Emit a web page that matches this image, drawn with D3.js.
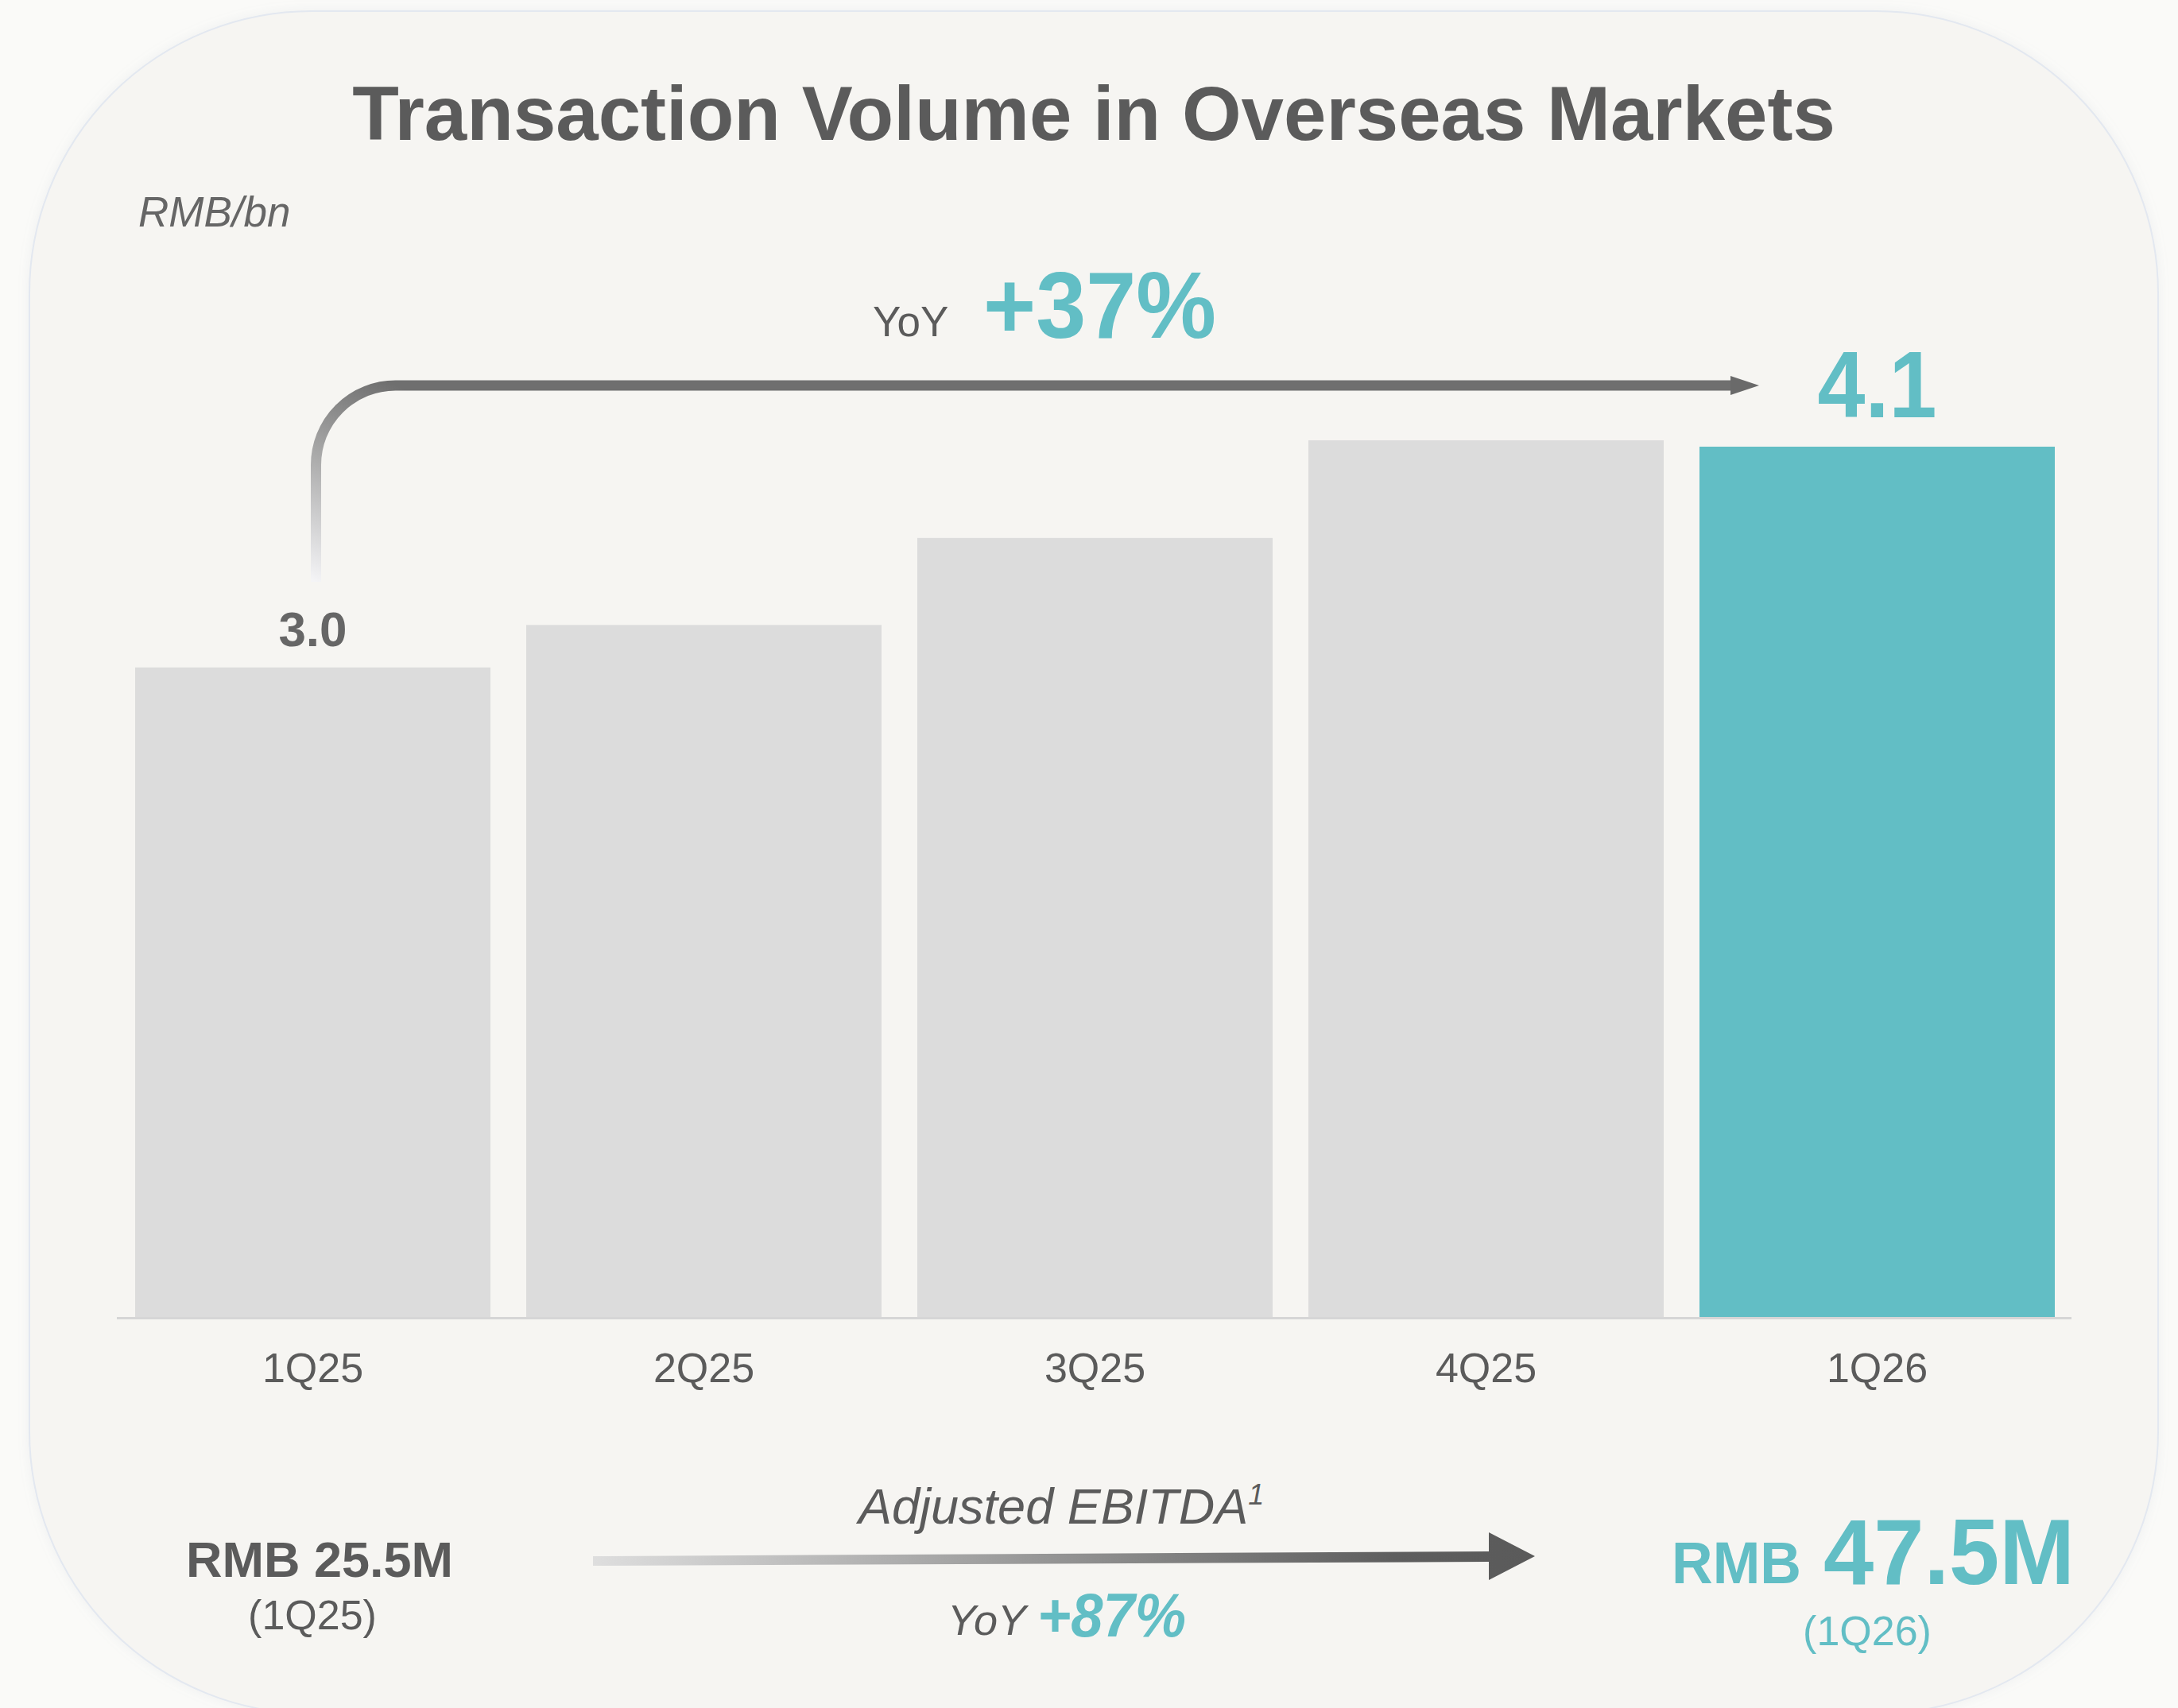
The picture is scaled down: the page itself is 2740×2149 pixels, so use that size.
<!DOCTYPE html>
<html>
<head>
<meta charset="utf-8">
<script src="https://cdn.jsdelivr.net/npm/d3@7"></script>
<style>
  body { margin: 0; background: #fafaf8; }
  svg { display: block; }
  text { font-family: "Liberation Sans", Arial, Helvetica, sans-serif; }
</style>
</head>
<body>
<div id="chart"></div>
<script>
// data
var categories = ["1Q25", "2Q25", "3Q25", "4Q25", "1Q26"];
var values = [3.06, 3.26, 3.67, 4.13, 4.1];
var valueLabels = ["3.0", "", "", "", "4.1"];
var yoyVolume = "+37%";

var ebitdaPeriods = ["1Q25", "1Q26"];
var ebitdaValues = ["25.5M", "47.5M"];
var yoyEbitda = "+87%";

var width = 2740, height = 2149;
var grey = "#5b5b5b", teal = "#62bec5", barGrey = "#dcdcdc";

var svg = d3.select("#chart").append("svg")
    .attr("width", width)
    .attr("height", height);

var defs = svg.append("defs");
var shadow = defs.append("filter").attr("id", "shadow")
    .attr("x", "-5%").attr("y", "-5%").attr("width", "110%").attr("height", "110%");
shadow.append("feDropShadow")
    .attr("dx", 0).attr("dy", 0).attr("stdDeviation", 7)
    .attr("flood-color", "#9aa4b4").attr("flood-opacity", 0.12);

// card
svg.append("rect")
    .attr("x", 37).attr("y", 14)
    .attr("width", 2678).attr("height", 2142)
    .attr("rx", 355).attr("ry", 355)
    .attr("fill", "#f6f5f2")
    .attr("stroke", "#e3e8f0")
    .attr("stroke-width", 2)
    .attr("filter", "url(#shadow)");

// title
svg.append("text")
    .attr("x", 1376).attr("y", 176)
    .attr("text-anchor", "middle")
    .attr("font-size", 96).attr("font-weight", "bold")
    .attr("fill", grey)
    .text("Transaction Volume in Overseas Markets");

svg.append("text")
    .attr("x", 174).attr("y", 285)
    .attr("font-size", 53).attr("font-style", "italic")
    .attr("fill", "#666")
    .text("RMB/bn");

// scales
var baseY = 1657;
var x = d3.scaleBand()
    .domain(categories)
    .range([170, 2585])
    .paddingInner(45 / 492)
    .paddingOuter(0);

var y = d3.scaleLinear()
    .domain([0, 4.1])
    .range([baseY, 562]);

// bars
svg.append("g").selectAll("rect")
    .data(categories)
    .enter()
    .append("rect")
    .attr("x", function(d) { return x(d); })
    .attr("y", function(d, i) { return y(values[i]); })
    .attr("width", x.bandwidth())
    .attr("height", function(d, i) { return baseY - y(values[i]); })
    .attr("fill", function(d, i) { return i == categories.length - 1 ? teal : barGrey; });

// baseline
svg.append("line")
    .attr("x1", 147).attr("x2", 2606)
    .attr("y1", baseY + 1.5).attr("y2", baseY + 1.5)
    .attr("stroke", "#d6d6d6")
    .attr("stroke-width", 3);

// category axis
var axis = svg.append("g")
    .attr("transform", "translate(0," + baseY + ")")
    .call(d3.axisBottom(x).tickSize(0));
axis.select(".domain").remove();
axis.selectAll("text")
    .attr("y", 82).attr("dy", 0)
    .attr("font-size", 52)
    .attr("font-family", "Liberation Sans, Arial, sans-serif")
    .attr("fill", grey);

// value labels
svg.append("g").selectAll("text")
    .data(categories)
    .enter()
    .append("text")
    .attr("x", function(d) { return x(d) + x.bandwidth() / 2; })
    .attr("y", function(d, i) { return i == 0 ? y(values[i]) - 27 : y(values[i]) - 37; })
    .attr("text-anchor", "middle")
    .attr("font-weight", "bold")
    .attr("font-size", function(d, i) { return i == 0 ? 62 : 118; })
    .attr("fill", function(d, i) { return i == 0 ? "#666" : teal; })
    .each(function(d, i) {
        if (i == categories.length - 1) d3.select(this).attr("textLength", 150).attr("lengthAdjust", "spacingAndGlyphs");
    })
    .text(function(d, i) { return valueLabels[i]; });

// YoY connector arrow
var x0 = x(categories[0]) + x.bandwidth() / 2 + 4;
var lineY = 485, r = 100, tipX = 2213;
var grad = defs.append("linearGradient").attr("id", "conn")
    .attr("gradientUnits", "userSpaceOnUse")
    .attr("x1", x0).attr("y1", 732)
    .attr("x2", x0 + r).attr("y2", lineY);
grad.append("stop").attr("offset", 0).attr("stop-color", "#f4f4f6");
grad.append("stop").attr("offset", 0.55).attr("stop-color", "#aaaaaa");
grad.append("stop").attr("offset", 1).attr("stop-color", "#6f6f6f");

var p = d3.path();
p.moveTo(x0, 732);
p.lineTo(x0, lineY + r);
p.arcTo(x0, lineY, x0 + r, lineY, r);
p.lineTo(tipX - 36, lineY);
svg.append("path")
    .attr("d", p.toString())
    .attr("fill", "none")
    .attr("stroke", "url(#conn)")
    .attr("stroke-width", 13);
svg.append("path")
    .attr("d", "M" + (tipX - 36) + "," + (lineY - 12) + "L" + tipX + "," + lineY + "L" + (tipX - 36) + "," + (lineY + 12) + "Z")
    .attr("fill", "#6a6a6a");

var yoyTop = svg.append("text").attr("y", 423).attr("x", 1098);
yoyTop.append("tspan")
    .attr("font-size", 53).attr("fill", grey)
    .text("YoY");
yoyTop.append("tspan")
    .attr("x", 1237).attr("y", 425)
    .attr("font-size", 118).attr("font-weight", "bold").attr("fill", teal)
    .attr("textLength", 293).attr("lengthAdjust", "spacingAndGlyphs")
    .text(yoyVolume);

// EBITDA comparison
svg.append("text")
    .attr("x", 402).attr("y", 1984)
    .attr("text-anchor", "middle")
    .attr("font-size", 63).attr("font-weight", "bold")
    .attr("fill", grey)
    .text("RMB " + ebitdaValues[0]);
svg.append("text")
    .attr("x", 393).attr("y", 2050)
    .attr("text-anchor", "middle")
    .attr("font-size", 52)
    .attr("fill", grey)
    .text("(" + ebitdaPeriods[0] + ")");

var eb = svg.append("text")
    .attr("x", 1080).attr("y", 1917)
    .attr("font-size", 63).attr("font-style", "italic")
    .attr("fill", grey);
eb.append("tspan").text("Adjusted EBITDA");
eb.append("tspan").attr("font-size", 36).attr("dy", -24).text("1");

var ag = defs.append("linearGradient").attr("id", "ebArrow")
    .attr("x1", 0).attr("x2", 1).attr("y1", 0).attr("y2", 0);
ag.append("stop").attr("offset", 0).attr("stop-color", "#dedede");
ag.append("stop").attr("offset", 0.85).attr("stop-color", "#5e5e5e");
ag.append("stop").attr("offset", 1).attr("stop-color", "#5a5a5a");
svg.append("path")
    .attr("d", "M746,1958L1873,1952L1873,1928L1931,1958L1873,1988L1873,1965L746,1970Z")
    .attr("fill", "url(#ebArrow)");

var yoyB = svg.append("text").attr("x", 1192).attr("y", 2057).attr("font-style", "italic");
yoyB.append("tspan").attr("font-size", 54).attr("fill", grey).text("YoY");
yoyB.append("tspan")
    .attr("x", 1305).attr("y", 2059)
    .attr("font-size", 78).attr("font-weight", "bold").attr("fill", teal)
    .attr("textLength", 187).attr("lengthAdjust", "spacingAndGlyphs")
    .text(yoyEbitda);

var rmbR = svg.append("text").attr("fill", teal).attr("font-weight", "bold");
rmbR.append("tspan").attr("x", 2103).attr("y", 1992).attr("font-size", 74)
    .attr("textLength", 163).attr("lengthAdjust", "spacingAndGlyphs").text("RMB");
rmbR.append("tspan").attr("x", 2294).attr("y", 1993).attr("font-size", 117)
    .attr("textLength", 316).attr("lengthAdjust", "spacingAndGlyphs").text(ebitdaValues[1]);
svg.append("text")
    .attr("x", 2349).attr("y", 2070)
    .attr("text-anchor", "middle")
    .attr("font-size", 52)
    .attr("fill", teal)
    .text("(" + ebitdaPeriods[1] + ")");
</script>
</body>
</html>
